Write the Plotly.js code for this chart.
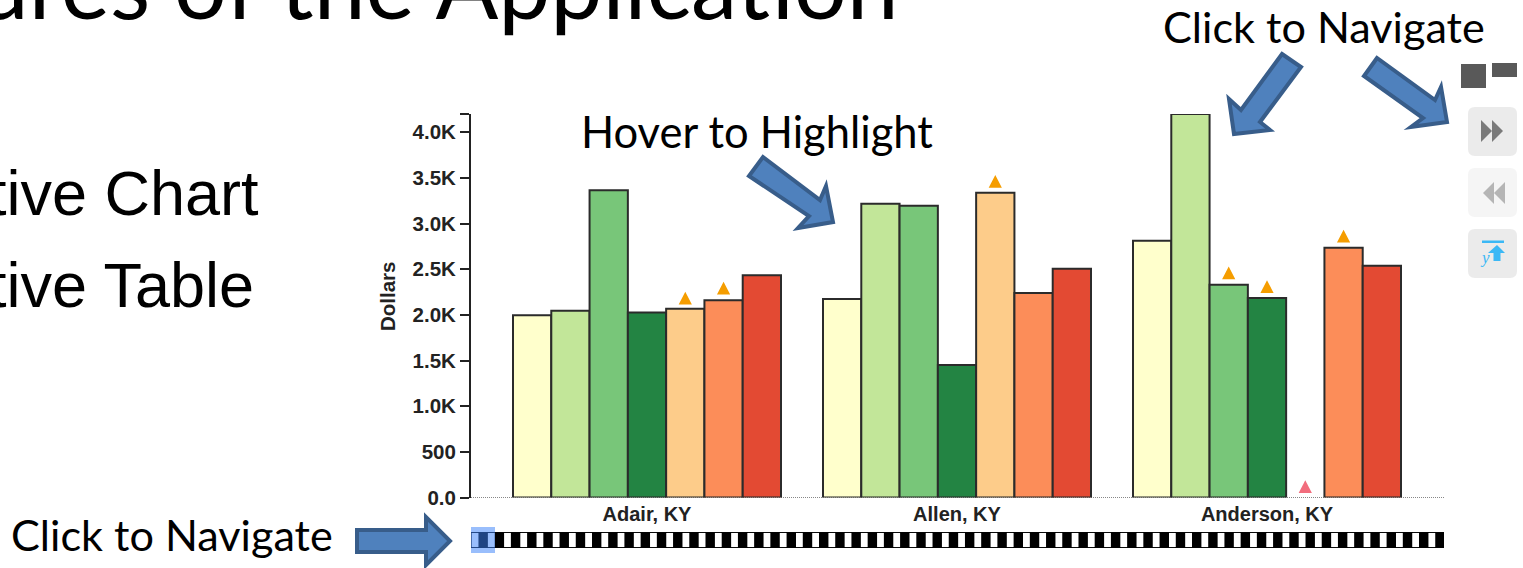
<!DOCTYPE html>
<html><head><meta charset="utf-8">
<script src="https://cdn.plot.ly/plotly-3.0.1.min.js"></script>
<style>html,body{margin:0;padding:0;background:#fff;overflow:hidden}#c{width:1523px;height:568px}</style>
</head><body><div id="c"></div>
<script>
const categories = ["Adair, KY", "Allen, KY", "Anderson, KY"];
const series1 = [1995, 2175, 2811];
const series2 = [2044, 3216, 4200];
const series3 = [3366, 3195, 2329];
const series4 = [2025, 1452, 2186];
const series5 = [2066, 3337, null];
const series6 = [2160, 2240, 2734];
const series7 = [2435, 2504, 2537];
const seriesColors = ["#ffffcc", "#c2e699", "#78c679", "#238443", "#fdcc8a", "#fc8d59", "#e34a33"];

const warnGroup = [0, 0, 1, 2, 2, 2];
const warnSlot = [4, 5, 4, 2, 3, 5];
const warnValue = [2183, 2293, 3463, 2460, 2310, 2862];
const lowGroup = [2];
const lowSlot = [4];
const lowValue = [118];

const yTickVals = [0, 500, 1000, 1500, 2000, 2500, 3000, 3500, 4000, 4200];
const yTickText = ["0.0", "500", "1.0K", "1.5K", "2.0K", "2.5K", "3.0K", "3.5K", "4.0K", ""];
const stripeIndex = Array.from({length: 60}, (_, i) => i);
const stripeFlag = stripeIndex.map(() => 0.88);

const L = 471, R = 1444, T = 114, B = 548, W = R - L, H = B - T;
const PW = 1523, PH = 568;
const px = x => (x - L) / W, py = y => (B - y) / H;
const poly = pts => "M" + pts.map(p => px(p[0]) + "," + py(p[1])).join("L") + "Z";
const slotWidth = 268 / 7 / 310;

const allSeries = [series1, series2, series3, series4, series5, series6, series7];
const traces = allSeries.map((vals, i) => ({
  type: "bar", x: [0, 1, 2], y: vals, xaxis: "x", yaxis: "y", name: "S" + (i + 1), cliponaxis: false,
  marker: {color: seriesColors[i], line: {color: "#2b2b2b", width: 2}}
}));
function triangles(groups, slots, values, color, name) {
  const hw = 6.6 / 310, hh = 70, xs = [], ys = [];
  groups.forEach((g, i) => {
    const c = g + (slots[i] - 3) * slotWidth;
    xs.push(c - hw, c + hw, c, c - hw, null);
    ys.push(values[i] - hh, values[i] - hh, values[i] + hh, values[i] - hh, null);
  });
  return {type: "scatter", mode: "lines", fill: "toself", fillcolor: color, x: xs, y: ys, name,
    xaxis: "x", yaxis: "y", line: {width: 0, color: color}};
}
traces.push(triangles(warnGroup, warnSlot, warnValue, "#f59d00", "Alerts"));
traces.push(triangles(lowGroup, lowSlot, lowValue, "#f26d7d", "Low"));
traces.push({
  type: "bar", xaxis: "x2", yaxis: "y2", name: "Navigator",
  x: stripeIndex, y: stripeFlag, base: 0.06, width: 0.42, offset: 0.04,
  marker: {color: "#fff", line: {width: 0}}
});

function roundRect(x0, y0, x1, y1, r) {
  const X = v => px(v), Y = v => py(v);
  return `M${X(x0 + r)},${Y(y0)}L${X(x1 - r)},${Y(y0)}Q${X(x1)},${Y(y0)} ${X(x1)},${Y(y0 + r)}` +
    `L${X(x1)},${Y(y1 - r)}Q${X(x1)},${Y(y1)} ${X(x1 - r)},${Y(y1)}L${X(x0 + r)},${Y(y1)}` +
    `Q${X(x0)},${Y(y1)} ${X(x0)},${Y(y1 - r)}L${X(x0)},${Y(y0 + r)}Q${X(x0)},${Y(y0)} ${X(x0 + r)},${Y(y0)}Z`;
}
const pathShape = (path, fill, line, lw) => ({type: "path", xref: "paper", yref: "paper", path,
  fillcolor: fill, line: {color: line || fill, width: lw === undefined ? 0 : lw}});
const arrow = pts => pathShape(poly(pts), "#4f81bd", "#385d8a", 4);

const shapes = [
  {type: "rect", xref: "paper", yref: "paper", x0: 0, x1: 1, y0: py(548), y1: py(532), layer: "below",
    fillcolor: "#000", line: {width: 0}},
  {type: "line", xref: "paper", yref: "y", x0: 0, x1: 1, y0: 0, y1: 0, layer: "below",
    line: {color: "#111", width: 1.2, dash: "1px,1px"}},
  {type: "rect", xref: "paper", yref: "paper", x0: px(471), x1: px(495), y0: py(553), y1: py(527),
    fillcolor: "rgba(60,130,250,0.52)", line: {width: 0}},
  arrow([[357,530],[426,530],[426,517],[450,541],[426,565],[426,552],[357,552]]),
  arrow([[763,157],[820,200],[826,186],[833,222],[798,228],[809,216],[749,176]]),
  arrow([[1282,54],[1301,67],[1260,122],[1270,130],[1234,134],[1229,99],[1241,110]]),
  arrow([[1377,58],[1364,76],[1423,118],[1411,127],[1447,122],[1441,87],[1435,100]]),
  pathShape(poly([[1461,64],[1486,64],[1486,88],[1461,88]]), "#595959"),
  pathShape(poly([[1492,63],[1517,63],[1517,77],[1492,77]]), "#595959"),
  pathShape(roundRect(1468,107,1517,156,7), "#ebebeb"),
  pathShape(roundRect(1468,168,1517,217,7), "#f5f5f5"),
  pathShape(roundRect(1468,229,1517,278,7), "#ebebeb"),
  pathShape(poly([[1481,120],[1492,131],[1481,142]]), "#7a7a7a"),
  pathShape(poly([[1492,120],[1503,131],[1492,142]]), "#7a7a7a"),
  pathShape(poly([[1494,182],[1483,193],[1494,204]]), "#b5b5b5"),
  pathShape(poly([[1505,182],[1494,193],[1505,204]]), "#b5b5b5"),
  pathShape(poly([[1482,240.5],[1504,240.5],[1504,243],[1482,243]]), "#3bb8f5"),
  pathShape(poly([[1497,245],[1505,253],[1500.5,253],[1500.5,261],[1493.5,261],[1493.5,253],[1488,253]]), "#3bb8f5")
];

const note = (text, x, y, size, family, anchor, color, extra) => Object.assign({
  text, xref: "paper", yref: "paper", x: px(x), y: py(y), xanchor: anchor || "center", yanchor: "middle",
  showarrow: false, borderpad: 0, font: {family, size, color: color || "#000"}
}, extra || {});

const annotations = [
  note("ures of the Application", 900, -17, 93, "Lato", "right"),
  note("tive Chart", 259.5, 192.5, 63, "Liberation Sans", "right"),
  note("tive Table", 254.5, 284.5, 63, "Liberation Sans", "right"),
  note("Hover to Highlight", 756.5, 131, 43.5, "Lato"),
  note("Click to Navigate", 1323.5, 26, 43.2, "Lato"),
  note("Click to Navigate", 172, 534, 43.2, "Lato"),
  note("<b>Dollars</b>", 387, 296, 20.5, "Liberation Sans", "center", "#222", {textangle: -90}),
  note("<i>y</i>", 1485, 257, 17, "Liberation Serif", "center", "#3bb8f5")
];

const layout = {
  width: PW, height: PH, showlegend: false, paper_bgcolor: "#fff", plot_bgcolor: "rgba(0,0,0,0)",
  margin: {l: L, r: PW - R, t: T, b: PH - B, pad: 0},
  barmode: "group", bargap: 1 - 268 / 310, bargroupgap: 0,
  xaxis: {domain: [0, 1], anchor: "y", range: [(471 - 647) / 310, (1444 - 647) / 310],
    tickvals: [0, 1, 2], ticktext: categories.map(c => "<b>" + c + "</b>"), ticks: "", showgrid: false, zeroline: false,
    showline: false, ticklabelstandoff: 2, tickfont: {family: "Liberation Sans", size: 20, color: "#222"}, automargin: false},
  yaxis: {domain: [py(497.5), 1], anchor: "x", range: [0, 4200], tickvals: yTickVals,
    ticktext: yTickText.map(t => t ? "<b>" + t + "</b>" : ""), ticks: "outside", ticklen: 9, tickwidth: 1.5, tickcolor: "#222",
    showline: true, linecolor: "#222", linewidth: 2, showgrid: false, zeroline: false,
    tickfont: {family: "Liberation Sans", size: 20.5, color: "#222"}, automargin: false},
  xaxis2: {domain: [0, 1], anchor: "y2", range: [0, 60], visible: false, fixedrange: true},
  yaxis2: {domain: [0, py(532)], anchor: "x2", range: [0, 1], visible: false, fixedrange: true},
  shapes, annotations
};
Plotly.newPlot("c", traces, layout, {displayModeBar: false});
</script></body></html>
